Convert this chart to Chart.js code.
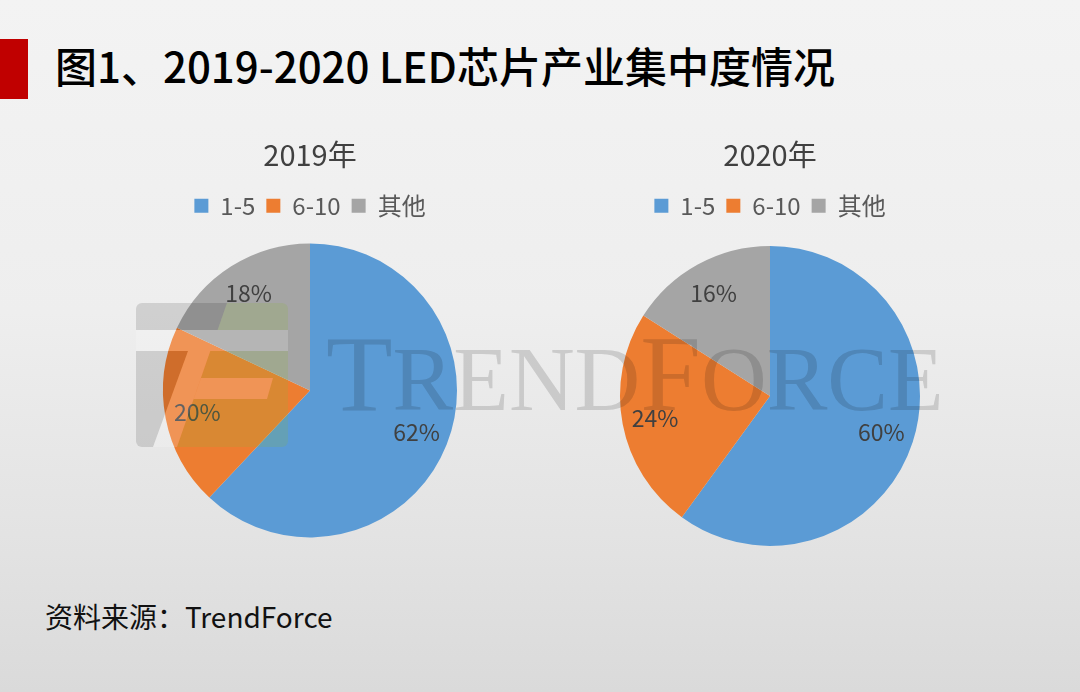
<!DOCTYPE html>
<html>
<head>
<meta charset="utf-8">
<script src="https://cdn.jsdelivr.net/npm/chart.js@4.4.1/dist/chart.umd.min.js"></script>
<style>
  html, body { margin: 0; padding: 0; }
  body {
    width: 1080px; height: 692px; position: relative; overflow: hidden;
    background: linear-gradient(180deg, #f3f3f3 0%, #eeeeee 45%, #e2e2e2 80%, #dadada 100%);
    font-family: "Noto Sans CJK SC", "Noto Sans", sans-serif;
  }
  .bar { position: absolute; left: 0; top: 39px; width: 28px; height: 60px; background: #c00000; }
  .title { position: absolute; left: 55px; top: 44px; font-size: 42px; line-height: 42px; font-weight: 500; color: #000; white-space: nowrap; }
  .source { position: absolute; left: 45px; top: 602px; font-size: 28px; line-height: 28px; color: #111; white-space: nowrap; }
  .box { position: absolute; }
  #left { left: 112px; top: 128px; width: 400px; height: 425px; }
  #right { left: 572px; top: 128px; width: 400px; height: 436px; }
  svg.mark { position: absolute; left: 0; top: 0; pointer-events: none; }
  svg.multiply { mix-blend-mode: multiply; }
</style>
</head>
<body>
<div class="bar"></div>
<div class="title">图1、2019-2020 LED芯片产业集中度情况</div>
<div class="box" id="left"><canvas id="pie2019"></canvas></div>
<div class="box" id="right"><canvas id="pie2020"></canvas></div>
<div class="source">资料来源：TrendForce</div>

<!-- watermark, darkening part -->
<svg class="mark multiply" width="1080" height="692" viewBox="0 0 1080 692">
  <defs>
    <clipPath id="logoClip"><rect x="136" y="303" width="152" height="144" rx="6" ry="6"/></clipPath>
  </defs>
  <g clip-path="url(#logoClip)" fill="rgb(223,223,223)">
    <polygon points="130,303 227,303 217.6,330 130,330"/>
    <polygon points="130,351 188,351 153,447 130,447"/>
  </g>
  <text x="326" y="410" fill="rgb(220,220,220)" font-family="Liberation Serif, Times New Roman, serif"><tspan font-size="109">T</tspan><tspan font-size="91">REND</tspan><tspan font-size="109">F</tspan><tspan font-size="91">ORCE</tspan></text>
</svg>
<!-- watermark, tint part -->
<svg class="mark" width="1080" height="692" viewBox="0 0 1080 692">
  <g clip-path="url(#logoClip)">
    <g fill="rgba(140,180,60,0.2)">
      <polygon points="227,303 295,303 295,330 217.6,330"/>
      <polygon points="210.3,351 295,351 295,378 201,378"/>
      <polygon points="273,378 295,378 295,399 267,399"/>
      <polygon points="193.7,399 295,399 295,447 177,447"/>
    </g>
    <g fill="rgba(255,255,255,0.18)">
      <rect x="130" y="330" width="165" height="21"/>
      <polygon points="188,351 210.3,351 177,447 153,447"/>
      <polygon points="201,378 273,378 267,399 193.7,399"/>
    </g>
  </g>
</svg>

<script>
const categories = ['1-5', '6-10', '其他'];
const share2019 = [62, 20, 18];
const share2020 = [60, 24, 16];
const sliceColors = ['#5B9BD5', '#ED7D31', '#A5A5A5'];

// percentage labels placed along the middle of each slice
const sliceLabels = {
  id: 'sliceLabels',
  afterDatasetsDraw(chart) {
    const ctx = chart.ctx;
    const meta = chart.getDatasetMeta(0);
    const values = chart.data.datasets[0].data;
    ctx.save();
    ctx.font = '23px "Noto Sans CJK SC"';
    ctx.fillStyle = '#404040';
    ctx.textAlign = 'center';
    ctx.textBaseline = 'middle';
    meta.data.forEach((arc, i) => {
      const p = arc.getProps(['x', 'y', 'startAngle', 'endAngle', 'outerRadius'], true);
      const mid = (p.startAngle + p.endAngle) / 2;
      const r = p.outerRadius * 0.78;
      ctx.fillText(values[i] + '%', p.x + Math.cos(mid) * r, p.y + Math.sin(mid) * r);
    });
    ctx.restore();
  }
};

function makePie(id, title, values, radius) {
  const ctx = document.getElementById(id).getContext('2d');
  return new Chart(ctx, {
    type: 'pie',
    data: {
      labels: categories,
      datasets: [{
        data: values,
        backgroundColor: sliceColors,
        borderWidth: 0,
        hoverOffset: 0,
        radius: radius,
      }],
    },
    options: {
      responsive: true,
      maintainAspectRatio: false,
      animation: false,
      events: [],
      layout: { padding: { left: 0, right: 4 } },
      plugins: {
        title: {
          display: true,
          text: title,
          color: '#404040',
          padding: { top: 10, bottom: 10 },
          font: { family: '"Noto Sans CJK SC"', size: 29, weight: 'normal', lineHeight: 1.2 },
        },
        legend: {
          position: 'top',
          labels: {
            boxWidth: 14,
            boxHeight: 14,
            padding: 11,
            color: '#595959',
            font: { family: '"Noto Sans CJK SC"', size: 24 },
          },
        },
        tooltip: { enabled: false },
      },
    },
    plugins: [sliceLabels],
  });
}

makePie('pie2019', '2019年', share2019, 147);
makePie('pie2020', '2020年', share2020, 150);
</script>
</body>
</html>
